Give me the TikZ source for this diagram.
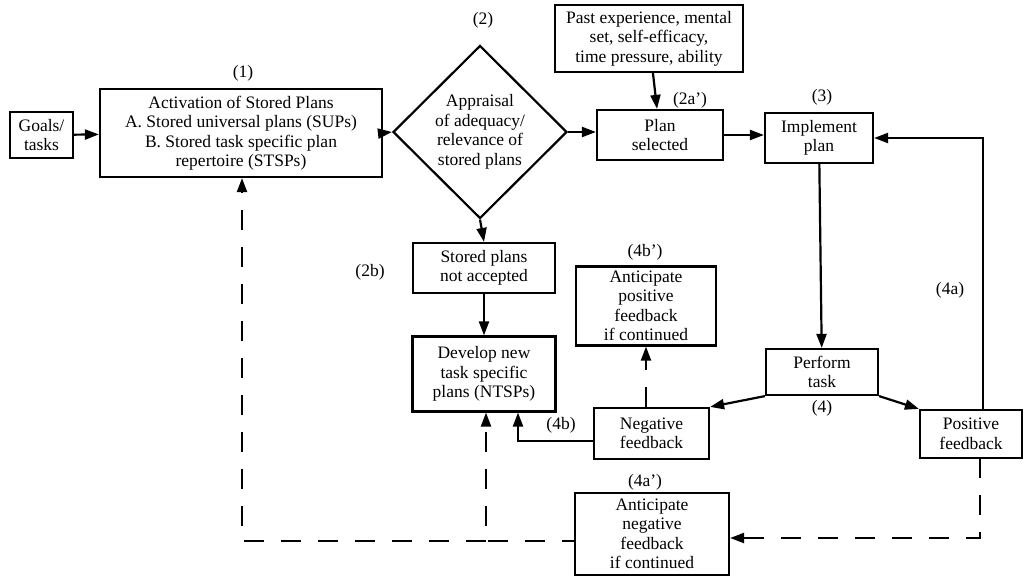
\documentclass[tikz,border=0pt]{standalone}
\usepackage{fontspec}
\setmainfont{Liberation Serif}
\usetikzlibrary{arrows.meta,shapes.geometric}
\begin{document}
\begin{tikzpicture}[x=1pt,y=-1pt,
  every node/.style={font=\fontsize{17.5}{19.5}\selectfont},
  box/.style={draw,line width=2.2pt,align=center,inner sep=1pt},
  lbl/.style={inner sep=0pt},
  conn/.style={line width=2.2pt,-{Triangle[length=14pt,width=10pt]}},
  dconn/.style={conn,dash pattern=on 20pt off 17pt},
  dline/.style={line width=2.2pt,dash pattern=on 20pt off 17pt}]
\useasboundingbox (0,0) rectangle (1024,580);
% nodes
\node[box,minimum width=63pt,minimum height=46pt] (goals) at (41.5,135) {Goals/\\tasks};
\node[box,minimum width=282pt,minimum height=88pt] (act) at (241,133) {Activation of Stored Plans\\A. Stored universal plans (SUPs)\\B. Stored task specific plan\\repertoire (STSPs)};
\node[draw,diamond,line width=2.2pt,minimum width=174pt,minimum height=173pt,inner sep=0pt] (diam) at (480,132) {};
\node[align=center,inner sep=0pt] (diamtext) at (480,132) {Appraisal\\of adequacy/\\relevance of\\stored plans};
\node[box,minimum width=126pt,minimum height=50pt] (plansel) at (660,135) {Plan\\selected};
\node[box,minimum width=188pt,minimum height=67pt] (past) at (649,38.5) {Past experience, mental\\set, self-efficacy,\\time pressure, ability};
\node[box,minimum width=108pt,minimum height=50pt] (impl) at (819,138) {Implement\\plan};
\node[box,minimum width=112pt,minimum height=46pt] (perf) at (822,372) {Perform\\task};
\node[box,minimum width=102pt,minimum height=48pt] (pos) at (971,434) {Positive\\feedback};
\node[box,minimum width=115pt,minimum height=51pt] (neg) at (651.5,433.5) {Negative\\feedback};
\node[box,minimum width=142pt,minimum height=50pt] (stored) at (484,268) {Stored plans\\not accepted};
\node[box,minimum width=143pt,minimum height=75pt] (dev) at (484,374) {Develop new\\task specific\\plans (NTSPs)};
\node[box,minimum width=140pt,minimum height=79pt] (antpos) at (646,306) {Anticipate\\positive\\feedback\\if continued};
\node[box,minimum width=154pt,minimum height=82pt] (antneg) at (652,534) {Anticipate\\negative\\feedback\\if continued};
% labels
\node[lbl] (l1) at (243,73) {(1)};
\node[lbl] (l2) at (483,20) {(2)};
\node[lbl] (l2a) at (690,100) {(2a')};
\node[lbl] (l3) at (822,97) {(3)};
\node[lbl] (l2b) at (370,272) {(2b)};
\node[lbl] (l4bp) at (645,252) {(4b')};
\node[lbl] (l4a) at (950,290) {(4a)};
\node[lbl] (l4) at (822,408) {(4)};
\node[lbl] (l4b) at (561,425) {(4b)};
\node[lbl] (l4ap) at (645,482) {(4a')};
% coordinates
\coordinate (posup) at (983,410);
\coordinate (posdn) at (980,458);
\coordinate (bendR) at (980,538);
\coordinate (bendM) at (486,541);
\coordinate (bendL) at (242,541);
\coordinate (negL) at (518,441);
% connectors
\draw[conn] (goals) -- (act);
\draw[conn] (act.east) -- (diam.west);
\draw[conn] (diam.east) -- (diam.east -| plansel.west);
\draw[conn] (past) -- (plansel);
\draw[conn] (plansel.east) -- (plansel.east -| impl.west);
\draw[conn] (impl) -- (perf);
\draw[conn] (diam.south) -- (stored.north);
\draw[conn] (stored) -- (dev);
\draw[conn] (perf.south east) -- (pos.north west);
\draw[conn] (perf.south west) -- (neg.north east);
\draw[conn] (posup) |- (impl.east);
\draw[conn] (negL -| neg.west) -- (negL) -- (negL |- dev.south);
\draw[dconn] (antpos.south |- neg.north) -- (antpos.south);
\draw[dconn] (posdn) -- (bendR) -- (bendR -| antneg.east);
\draw[dconn,dash phase=8pt] (bendM -| antneg.west) -- (bendM) -- (bendM |- dev.south);
\draw[dconn] (bendM) -- (bendL) -- (bendL |- act.south);
\end{tikzpicture}
\end{document}
